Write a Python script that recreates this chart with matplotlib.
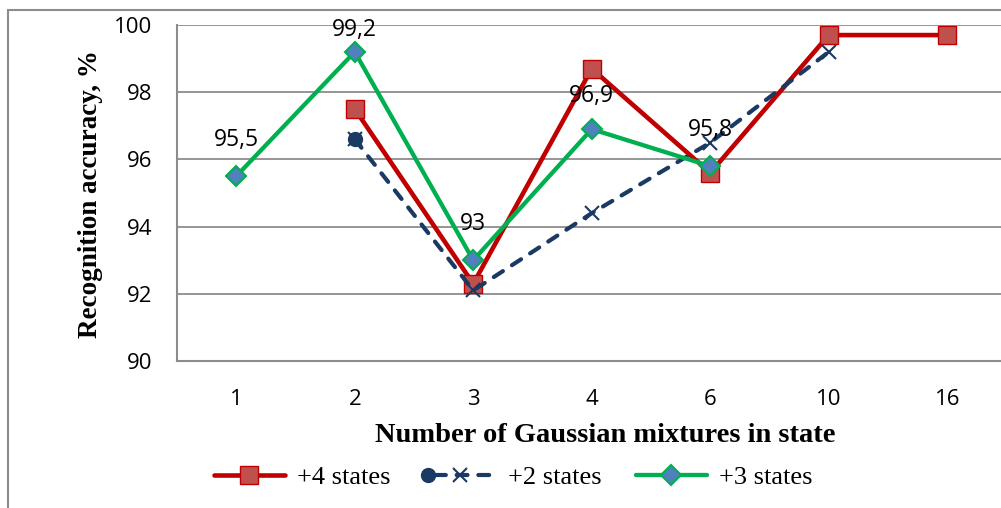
import matplotlib
matplotlib.use("Agg")
import matplotlib.pyplot as plt
from matplotlib.lines import Line2D
from matplotlib.patches import Rectangle
from matplotlib.legend_handler import HandlerBase

# Categories (number of Gaussian mixtures per state)
categories = ["1", "2", "3", "4", "6", "10", "16"]

# Recognition accuracy, % (None = not measured)
acc_plus4 = [None, 97.5, 92.3, 98.7, 95.6, 99.7, 99.7]
acc_plus2 = [None, 96.6, 92.1, 94.4, 96.5, 99.2, None]
acc_plus3 = [95.5, 99.2, 93.0, 96.9, 95.8, None, None]

# Value labels shown for the "+3 states" series
label_text_plus3 = ["95,5", "99,2", "93", "96,9", "95,8"]

y_ticks = [90, 92, 94, 96, 98, 100]

RED = "#C00000"
RED_FACE = "#C0504D"
NAVY = "#1B3A63"
GREEN = "#00B050"
BLUE_FACE = "#4F81BD"
GRID = "#8C8C8C"

W, H = 1001, 508
fig = plt.figure(figsize=(W / 100, H / 100), dpi=100)
ax = fig.add_axes([177 / W, (H - 361) / H, 829.5 / W, 336 / H])


def pts(values):
    xs = [i for i, v in enumerate(values) if v is not None]
    ys = [v for v in values if v is not None]
    return xs, ys


x4, y4 = pts(acc_plus4)
x2, y2 = pts(acc_plus2)
x3, y3 = pts(acc_plus3)

ax.plot(x4, y4, color=RED, lw=3.3, marker="s", ms=12.5, mfc=RED_FACE,
        mec=RED, mew=1.0, zorder=3, solid_capstyle="round")
ax.plot(x2, y2, color=NAVY, lw=3.0, ls=(0, (2.6, 2.6)), dash_capstyle="round",
        marker="x", ms=10, mew=1.5, mec=NAVY, zorder=4)
# first point of the "+2 states" series uses a filled circle
ax.plot(x2[:1], y2[:1], ls="none", marker="o", ms=10, mfc=NAVY, mec=NAVY, zorder=5)
ax.plot(x3, y3, color=GREEN, lw=3.1, marker="D", ms=10.5, mfc=BLUE_FACE,
        mec=GREEN, mew=1.5, zorder=6, solid_capstyle="round")

tick_font = {"family": "Open Sans", "size": 16}
offsets = [26, 16, 26, 24, 26]
for xi, yi, txt, off in zip(x3, y3, label_text_plus3, offsets):
    ax.annotate(txt, (xi, yi), xytext=(0, off), textcoords="offset points",
                ha="center", va="center", fontfamily="Open Sans",
                fontsize=16.5, color="black", zorder=7)

ax.set_xlim(-0.5, len(categories) - 0.5)
ax.set_ylim(90, 100)
ax.set_xticks(range(len(categories)))
ax.set_xticklabels(categories, **tick_font)
ax.set_yticks(y_ticks)
ax.set_yticklabels([str(t) for t in y_ticks], **tick_font)
ax.tick_params(axis="both", length=0)
ax.tick_params(axis="y", pad=18)
ax.tick_params(axis="x", pad=20)

ax.grid(axis="y", color=GRID, lw=1.3)
ax.set_axisbelow(True)
for s in ("top", "right"):
    ax.spines[s].set_visible(False)
for s in ("left", "bottom"):
    ax.spines[s].set_color(GRID)
    ax.spines[s].set_linewidth(1.5)

fig.text(91 / W, 1 - 194 / H, "Recognition accuracy, %", rotation=90,
         ha="center", va="center", family="Liberation Serif",
         weight="bold", size=19.5)
fig.text(605.5 / W, 1 - 435 / H, "Number of Gaussian mixtures in state",
         ha="center", va="center", family="Liberation Serif",
         weight="bold", size=20.5)

# Outer chart frame
fig.add_artist(Rectangle((8 / W, -0.1), 1.2, 1 - 10 / H + 0.1,
                         transform=fig.transFigure, fill=False,
                         edgecolor=GRID, lw=1.5))


class CircleCrossHandler(HandlerBase):
    def create_artists(self, legend, orig_handle, xdescent, ydescent,
                       width, height, fontsize, trans):
        y = height / 2 - ydescent
        x0 = -xdescent
        line = Line2D([x0 + 0.15 * width, x0 + width], [y, y], color=NAVY,
                      lw=3.0, ls=(0, (2.6, 2.6)), dash_capstyle="round")
        cross = Line2D([x0 + 0.5 * width], [y], ls="none", marker="x",
                       ms=10, mew=1.5, color=NAVY)
        circ = Line2D([x0 + 0.05 * width], [y], ls="none", marker="o",
                      ms=10, mfc=NAVY, mec=NAVY)
        for a in (line, cross, circ):
            a.set_transform(trans)
        return [line, cross, circ]


h4 = Line2D([], [], color=RED, lw=3.3, marker="s", ms=12.5, mfc=RED_FACE,
            mec=RED, mew=1.0, solid_capstyle="round")
h2 = Line2D([], [], color=NAVY)
h3 = Line2D([], [], color=GREEN, lw=3.1, marker="D", ms=10.5, mfc=BLUE_FACE,
            mec=GREEN, mew=1.5, solid_capstyle="round")
fig.legend([h4, h2, h3], ["+4 states", "+2 states", "+3 states"],
           loc="center", bbox_to_anchor=(513 / W, 1 - 477 / H), ncol=3,
           frameon=False, handlelength=2.7, handletextpad=0.45,
           columnspacing=1.3, numpoints=1,
           prop={"family": "Liberation Serif", "size": 19},
           handler_map={h2: CircleCrossHandler()})

fig.savefig("out.png", dpi=100)
